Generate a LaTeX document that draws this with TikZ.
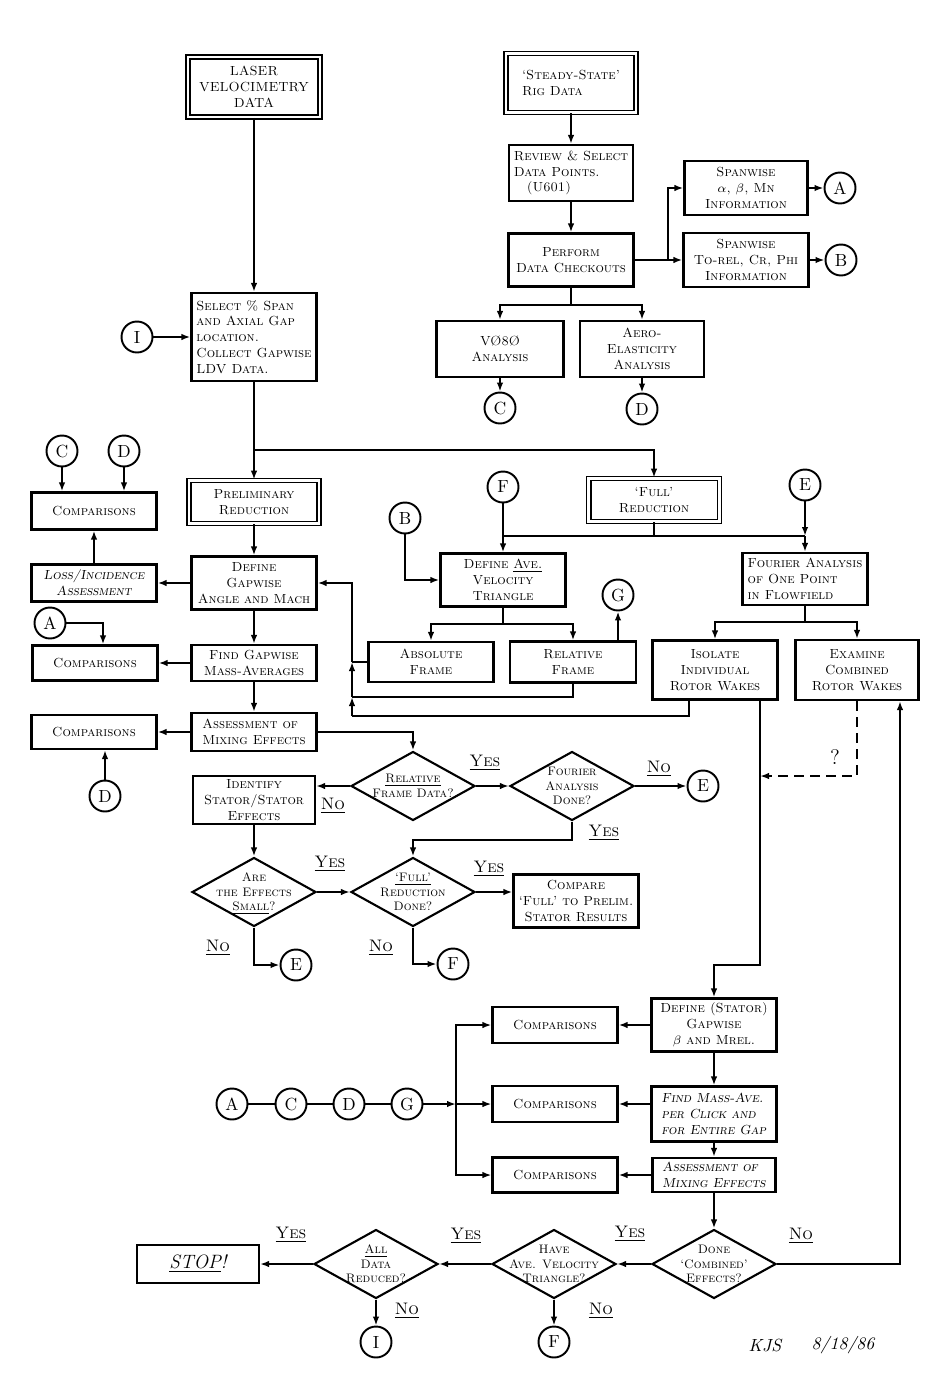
\documentclass[tikz,border=0pt]{standalone}
\usepackage{tikz}
\usetikzlibrary{shapes.geometric}
\usetikzlibrary{arrows.meta}
\newcommand{\flowfont}{\fontsize{7.5}{9}\selectfont\scshape}
\newcommand{\askfont}{\fontsize{7}{8.2}\selectfont\scshape}
\newcommand{\ansfont}{\fontsize{9.5}{11}\selectfont\scshape}
\newcommand{\qtext}[1]{\makebox[0pt]{\smash{\raisebox{-2.4pt}{\begin{tabular}{@{}c@{}}#1\end{tabular}}}}}
\tikzset{
  wire/.style={line width=1.2pt},
  arr/.style={wire, -{Latex[length=1.8mm,width=1.3mm]}},
  box/.style={draw, line width=1.2pt, rectangle, minimum width=2.5cm, inner sep=2pt, align=center, font=\flowfont},
  dbox/.style={box, double, double distance=1.6pt, line width=0.9pt},
  query/.style={draw, line width=1.2pt, diamond, inner sep=0pt, minimum width=2.48cm, minimum height=1.38cm, font=\askfont},
  link/.style={draw, circle, line width=1.1pt, minimum size=0.62cm, inner sep=0pt, font=\fontsize{10}{12}\selectfont},
  ans/.style={font=\ansfont}
}

\begin{document}
\begin{tikzpicture}[x=0.02cm,y=-0.02cm]
\useasboundingbox (0,0) rectangle (944,1399);

% colonne gauche
\node[dbox, minimum width=2.64cm, minimum height=1.2cm] (laser) at (254,87) {LASER\\VELOCIMETRY\\DATA};
\node[box, minimum height=1.76cm, align=left] (select) at (254,337) {Select \% Span\\and Axial Gap\\location.\\Collect Gapwise\\LDV Data.};
\node[dbox, minimum width=2.6cm, minimum height=0.86cm] (prelim) at (254,502) {Preliminary\\Reduction};
\node[box, minimum height=1.06cm] (gapwise) at (254,583) {Define\\Gapwise\\Angle and Mach};
\node[box, minimum height=0.72cm] (massavg) at (254,663) {Find Gapwise\\Mass-Averages};
\node[box, minimum height=0.76cm, align=left] (mixing) at (254,732) {Assessment of\\Mixing Effects};
\node[box, minimum width=2.44cm, minimum height=0.94cm] (identify) at (254,800) {Identify\\Stator/Stator\\Effects};
\node[box, minimum height=0.74cm] (cmpA) at (94,511) {Comparisons};
\node[box, minimum height=0.74cm] (loss) at (94,583) {\itshape Loss/Incidence\\\itshape Assessment};
\node[box, minimum height=0.7cm] (cmpB) at (95,663) {Comparisons};
\node[box, minimum height=0.68cm] (cmpC) at (94,732) {Comparisons};
\node[link] (cI1) at (137,337) {I};
\node[link] (cC2) at (62,451) {C};
\node[link] (cD2) at (124,451) {D};
\node[link] (cA2) at (50,623) {A};
\node[link] (cD3) at (105,796) {D};

% colonne droite haut
\node[dbox, minimum width=2.6cm, minimum height=1.18cm, align=left] (rig) at (571,83) {`Steady-State'\\Rig Data};
\node[box, minimum width=2.48cm, minimum height=1.12cm, align=left] (review) at (571,173) {Review \& Select\\Data Points.\\\quad(U601)};
\node[box, minimum height=1.06cm] (checkout) at (571,260) {Perform\\Data Checkouts};
\node[box, minimum width=2.46cm, minimum height=1.08cm] (spanA) at (746,188) {Spanwise\\$\alpha$, $\beta$, Mn\\Information};
\node[box, minimum height=1.08cm] (spanB) at (746,260) {Spanwise\\To-rel, Cr, Phi\\Information};
\node[box, minimum width=2.54cm, minimum height=1.12cm] (vphi) at (500,349) {V\O8\O\\Analysis};
\node[box, minimum width=2.48cm, minimum height=1.12cm] (aero) at (642,349) {Aero-\\Elasticity\\Analysis};
\node[link] (cA1) at (840,188) {A};
\node[link] (cB1) at (841,260) {B};
\node[link] (cC1) at (500,408) {C};
\node[link] (cD1) at (642,409) {D};

% milieu
\node[dbox, minimum width=2.62cm, minimum height=0.86cm] (full) at (654,500) {`Full'\\Reduction};
\node[box, minimum height=1.06cm] (triangle) at (503,580) {Define \underline{Ave.}\\Velocity\\Triangle};
\node[box, minimum height=1.04cm, align=left] (fourier) at (805,579) {Fourier Analysis\\of One Point\\in Flowfield};
\node[box, minimum height=0.8cm] (absolute) at (431,662) {Absolute\\Frame};
\node[box, minimum width=2.52cm, minimum height=0.82cm] (relative) at (573,662) {Relative\\Frame};
\node[box, minimum height=1.18cm] (isolate) at (715,670) {Isolate\\Individual\\Rotor Wakes};
\node[box, minimum width=2.46cm, minimum height=1.2cm] (combined) at (857,670) {Examine\\Combined\\Rotor Wakes};
\node[link] (cF1) at (503,487) {F};
\node[link] (cE1) at (805,485) {E};
\node[link] (cB2) at (405,518) {B};
\node[link] (cG1) at (618,595) {G};

% questions
\node[query] (relq) at (413,786) {\qtext{\underline{Relative}\\Frame Data?}};
\node[query] (fourq) at (572,786) {\qtext{Fourier\\Analysis\\Done?}};
\node[query] (smallq) at (254,892) {\qtext{Are\\the Effects\\\underline{Small}?}};
\node[query] (fullq) at (413,892) {\qtext{\underline{`Full'}\\Reduction\\Done?}};
\node[box, minimum height=1.06cm] (compare) at (576,901) {Compare\\`Full' to Prelim.\\Stator Results};
\node[link] (cE2) at (703,786) {E};
\node[link] (cE3) at (296,965) {E};
\node[link] (cF2) at (453,964) {F};

% bas
\node[box, minimum height=1.06cm] (stator) at (714,1025) {Define (Stator)\\Gapwise\\$\beta$ and Mrel.};
\node[box, minimum height=1.1cm, align=left] (clicks) at (714,1114) {\itshape Find Mass-Ave.\\\itshape per Click and\\\itshape for Entire Gap};
\node[box, minimum width=2.46cm, minimum height=0.68cm, align=left] (mixing2) at (714,1175) {\itshape Assessment of\\\itshape Mixing Effects};
\node[box, minimum height=0.72cm] (cmpD) at (555,1025) {Comparisons};
\node[box, minimum height=0.72cm] (cmpE) at (555,1104) {Comparisons};
\node[box, minimum height=0.7cm] (cmpF) at (555,1175) {Comparisons};
\node[link] (cA3) at (232,1104) {A};
\node[link] (cC3) at (291,1104) {C};
\node[link] (cD4) at (349,1104) {D};
\node[link] (cG2) at (407,1104) {G};
\node[query] (doneq) at (714,1264) {\qtext{Done\\`Combined'\\Effects?}};
\node[query] (haveq) at (554,1264) {\qtext{Have\\Ave. Velocity\\Triangle?}};
\node[query] (allq) at (376,1264) {\qtext{\underline{All}\\Data\\Reduced?}};
\node[box, minimum width=2.44cm, minimum height=0.76cm, font=\fontsize{11}{13}\selectfont\itshape] (stop) at (198,1264) {\underline{STOP}!};
\node[link] (cF3) at (554,1342) {F};
\node[link] (cI2) at (376,1342) {I};

% reponses
\node[ans] (yes1) at (485,763) {\underline{Yes}};
\node[ans] (no1) at (333,806) {\underline{No}};
\node[ans] (no2) at (659,769) {\underline{No}};
\node[ans] (yes2) at (604,833) {\underline{Yes}};
\node[ans] (yes3) at (330,864) {\underline{Yes}};
\node[ans] (no3) at (218,948) {\underline{No}};
\node[ans] (yes4) at (489,869) {\underline{Yes}};
\node[ans] (no4) at (381,948) {\underline{No}};
\node[ans] (no5) at (801,1236) {\underline{No}};
\node[ans] (yes5) at (630,1234) {\underline{Yes}};
\node[ans] (no6) at (601,1311) {\underline{No}};
\node[ans] (yes6) at (466,1236) {\underline{Yes}};
\node[ans] (no7) at (407,1311) {\underline{No}};
\node[ans] (yes7) at (291,1235) {\underline{Yes}};
\node[font=\fontsize{12}{14}\selectfont] (qmark) at (835,757) {?};
\node[font=\fontsize{10}{12}\selectfont\itshape] (kjs) at (765,1345) {KJS};
\node[font=\fontsize{10}{12}\selectfont\itshape] (date) at (843,1345) {8/18/86};

% fleches gauche
\coordinate (jA) at (254,450);
\draw[arr] (laser) -- (select);
\draw[arr] (cI1) -- (select);
\draw[wire] (select) -- (jA);
\draw[arr] (jA) -- (prelim);
\draw[arr] (jA) -| (full);
\draw[arr] (prelim) -- (gapwise);
\draw[arr] (gapwise) -- (loss);
\draw[arr] (loss) -- (cmpA);
\draw[arr] (cC2) -- (cC2 |- cmpA.north);
\draw[arr] (cD2) -- (cD2 |- cmpA.north);
\draw[arr] (gapwise) -- (massavg);
\draw[arr] (massavg) -- (cmpB);
\draw[arr] (cA2) -| ([xshift=0.16cm]cmpB.north);
\draw[arr] (massavg) -- (mixing);
\draw[arr] (mixing) -- (cmpC);
\draw[arr] (cD3) -- (cD3 |- cmpC.south);
\draw[arr] (mixing) -| (relq);
\draw[arr] (relq.west) -- (relq.west -| identify.east);
\draw[arr] (relq) -- (fourq);
\draw[arr] (fourq) -- (cE2);
\coordinate (jB) at (572,840);
\draw[arr] (fourq) -- (jB) -| (fullq);
\draw[arr] (identify) -- (smallq);
\draw[arr] (smallq) -- (fullq);
\draw[arr] (smallq) |- (cE3);
\draw[arr] (fullq) -- (fullq.east -| compare.west);
\draw[arr] (fullq) |- (cF2);

% fleches haut droite
\draw[arr] (rig) -- (review);
\draw[arr] (review) -- (checkout);
\coordinate (jC) at (668,260);
\draw[wire] (checkout) -- (jC);
\draw[arr] (jC) |- (spanA);
\draw[arr] (jC) -- (spanB);
\draw[arr] (spanA) -- (cA1);
\draw[arr] (spanB) -- (cB1);
\coordinate (jD) at (571,305);
\draw[wire] (checkout) -- (jD);
\draw[arr] (jD) -| (vphi);
\draw[arr] (jD) -| (aero);
\draw[arr] (vphi) -- (cC1);
\draw[arr] (aero) -- (cD1);

% fleches milieu
\coordinate (jE) at (503,536);
\coordinate (jF) at (805,536);
\draw[wire] (cF1) -- (jE) -- (jF);
\draw[wire] (full) -- (full.south |- jE);
\draw[arr] (cE1) -- (jF);
\draw[arr] (jE) -- (triangle);
\draw[arr] (jF) -- (fourier);
\draw[arr] (cB2) |- (triangle);
\coordinate (jG) at (503,624);
\draw[wire] (triangle) -- (jG);
\draw[arr] (jG) -| (absolute);
\draw[arr] (jG) -| (relative);
\draw[arr] (cG1 |- relative.north) -- (cG1);

% retour vers Define Gapwise
\coordinate (jI) at (689,716);
\coordinate (jK) at (352,716);
\coordinate (jL) at (352,697);
\coordinate (jM) at (352,662);
\draw[wire] (jI |- isolate.south) -- (jI) -- (jK);
\draw[arr] (jK) -- (jL);
\draw[wire] (relative) |- (jL);
\draw[arr] (jL) -- (jM);
\draw[wire] (absolute) -- (jM);
\draw[arr] (jM) |- (gapwise);

% sillages rotor
\coordinate (jN) at (805,622);
\draw[wire] (fourier) -- (jN);
\draw[arr] (jN) -| (isolate);
\draw[arr] (jN) -| (combined);
\coordinate (jQ) at (760,965);
\draw[arr] (jQ |- isolate.south) -- (jQ) -| (stator);
\coordinate (jR) at (760,776);
\draw[arr, dash pattern=on 2mm off 1.2mm] (combined) |- (jR);
\coordinate (jS) at (900,1264);
\draw[arr] (doneq) -- (jS) -- (jS |- combined.south);

% fleches bas
\draw[arr] (stator) -- (cmpD);
\draw[arr] (stator) -- (clicks);
\draw[arr] (cmpE.east -| clicks.west) -- (cmpE);
\draw[arr] (clicks) -- (mixing2);
\draw[arr] (mixing2) -- (cmpF);
\draw[wire] (cA3) -- (cC3) -- (cD4) -- (cG2);
\coordinate (jT) at (456,1104);
\draw[arr] (cG2) -- (jT);
\draw[arr] (jT) |- (cmpD);
\draw[arr] (jT) -- (cmpE);
\draw[arr] (jT) |- (cmpF);
\draw[arr] (mixing2) -- (doneq);
\draw[arr] (doneq) -- (haveq);
\draw[arr] (haveq) -- (cF3);
\draw[arr] (haveq) -- (allq);
\draw[arr] (allq) -- (cI2);
\draw[arr] (allq) -- (stop);
\end{tikzpicture}
\end{document}
